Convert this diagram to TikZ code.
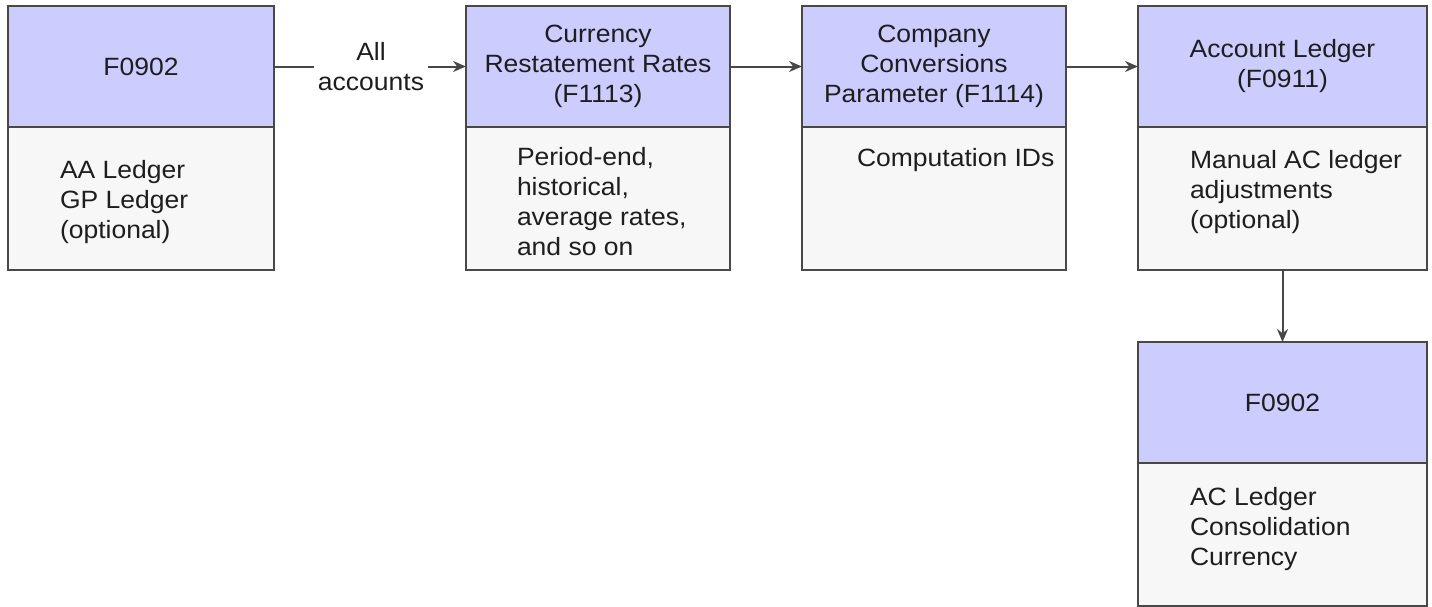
\documentclass[tikz,border=0pt]{standalone}
\usepackage{fontspec}
\setmainfont{Liberation Sans}[FakeStretch=1.06]
\usetikzlibrary{arrows.meta}
\definecolor{headfill}{RGB}{204,204,255}
\definecolor{bodyfill}{RGB}{247,247,247}
\definecolor{edgegray}{RGB}{72,72,72}
\definecolor{textgray}{RGB}{30,30,30}

\begin{document}
\begin{tikzpicture}[x=1pt, y=-1pt,
    every node/.style={font=\fontsize{25}{30}\selectfont, text=textgray, inner sep=0pt, outer sep=0pt},
    head/.style={draw=edgegray, fill=headfill, line width=2pt, anchor=north west, minimum height=121pt, align=center},
    panel/.style={draw=edgegray, fill=bodyfill, line width=2pt, anchor=north west, minimum height=143pt},
    note/.style={anchor=north west, align=left},
    flow/.style={draw=edgegray, line width=2pt, -{Stealth[length=13pt,width=11pt]}}]
  \useasboundingbox (0,0) rectangle (1432,606);

  % Table headers
  \node[head, minimum width=266pt] (gl) at (8,6) {F0902};
  \node[head, minimum width=264pt] (rates) at (466,6) {Currency\\Restatement Rates\\(F1113)};
  \node[head, minimum width=264pt] (conv) at (802,6) {Company\\Conversions\\Parameter (F1114)};
  \node[head, minimum width=289pt] (ledger) at (1138,6) {Account Ledger\\(F0911)};
  \node[head, minimum width=289pt] (glac) at (1138,342) {F0902};

  % Table contents
  \node[panel, minimum width=266pt] (glbody) at (8,127) {};
  \node[panel, minimum width=264pt] (ratesbody) at (466,127) {};
  \node[panel, minimum width=264pt] (convbody) at (802,127) {};
  \node[panel, minimum width=289pt] (ledgerbody) at (1138,127) {};
  \node[panel, minimum width=289pt] (glacbody) at (1138,463) {};

  \node[note] (gltext) at (60,160) {AA Ledger\\GP Ledger\\(optional)};
  \node[note] (ratestext) at (517,147) {Period-end,\\historical,\\average rates,\\and so on};
  \node[note] (convtext) at (857,148) {Computation IDs};
  \node[note] (ledgertext) at (1190,150) {Manual AC ledger\\adjustments\\(optional)};
  \node[note] (glactext) at (1190,487) {AC Ledger\\Consolidation\\Currency};

  % Flow between tables
  \node[align=center, inner xsep=4pt] (allacc) at (371,66.5) {All\\accounts};
  \draw[edgegray, line width=2pt] (gl.east) -- (allacc.west);
  \draw[flow] (allacc.east) -- (rates.west);
  \draw[flow] (rates) -- (conv);
  \draw[flow] (conv) -- (ledger);
  \draw[flow] (ledgerbody) -- (glac);

\end{tikzpicture}
\end{document}
